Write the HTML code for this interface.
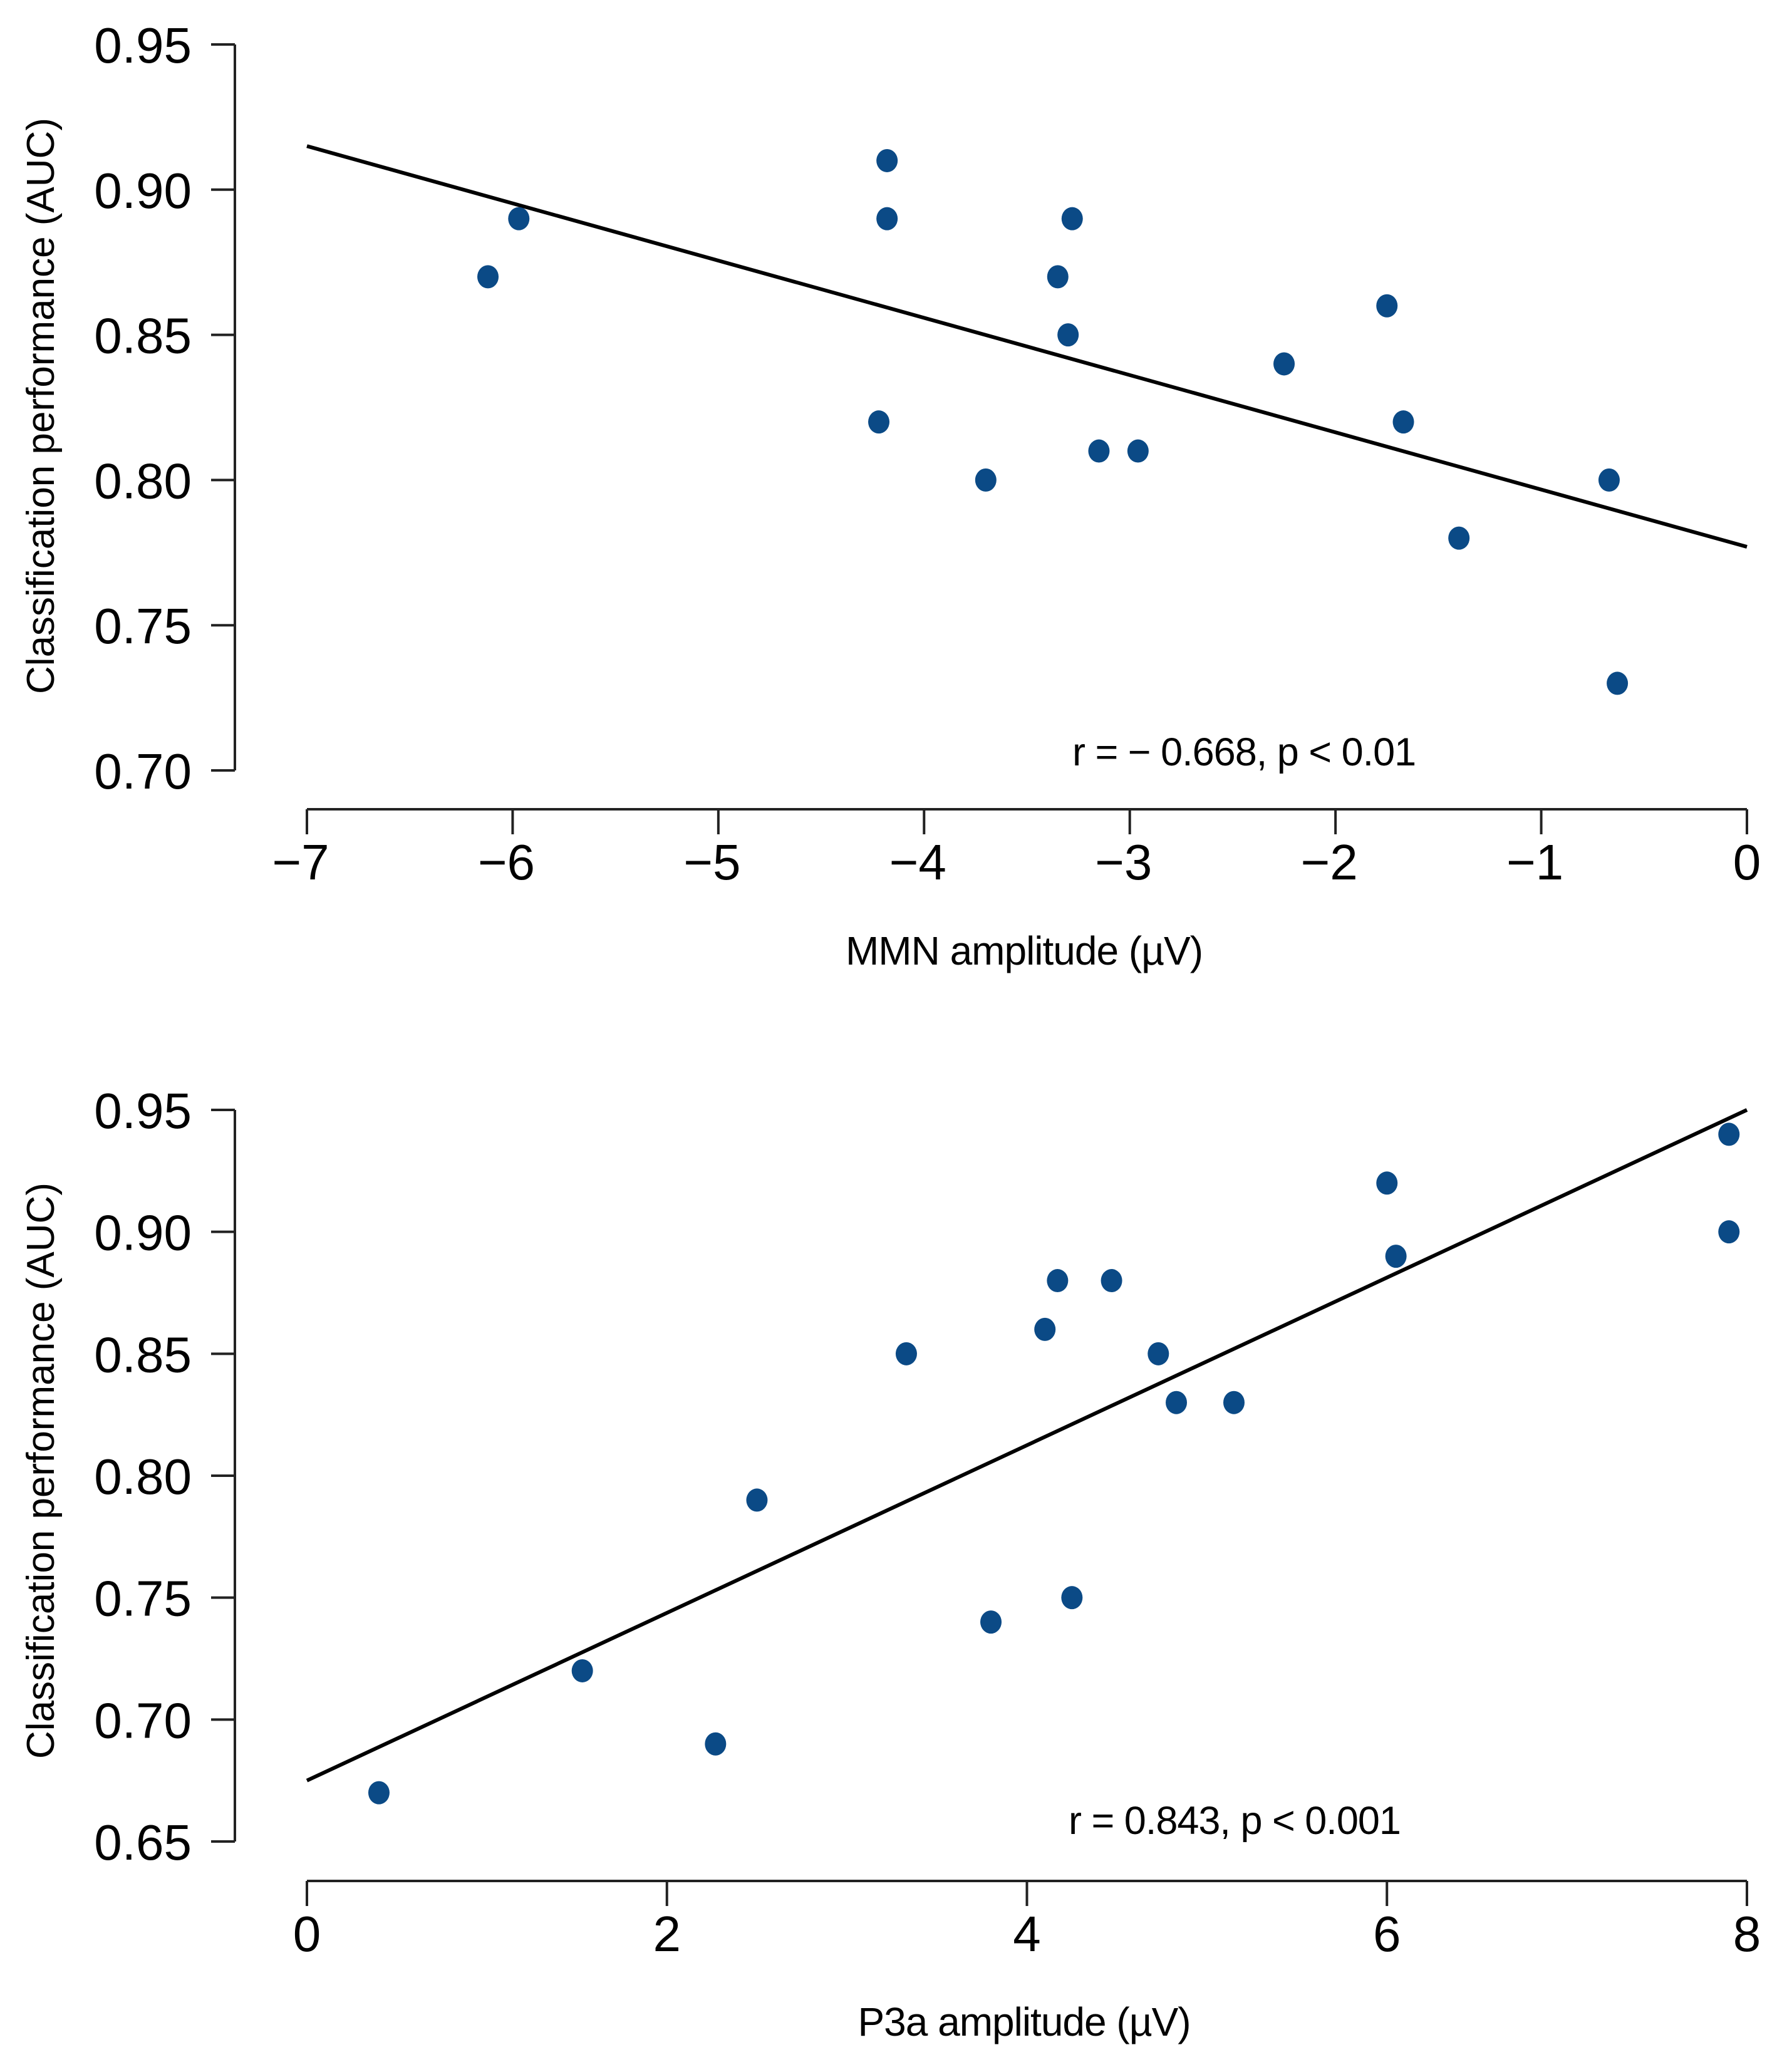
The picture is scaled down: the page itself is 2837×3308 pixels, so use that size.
<!DOCTYPE html>
<html><head><meta charset="utf-8"><style>
html,body{margin:0;padding:0;background:#fff}
svg{display:block}
text{font-family:"Liberation Sans",Arial,sans-serif;fill:#000}
</style></head><body>
<svg id="fig" width="2837" height="3308" viewBox="0 0 2837 3308" xmlns="http://www.w3.org/2000/svg">
<g id="p1"></g>
<g id="p2"></g>
</svg>
<script>
const mmnX = [-6.12,-5.97,-4.22,-4.18,-4.18,-3.7,-3.35,-3.3,-3.28,-3.15,-2.96,-2.25,-1.75,-1.67,-1.4,-0.67,-0.63];
const mmnY = [0.87,0.89,0.82,0.91,0.89,0.80,0.87,0.85,0.89,0.81,0.81,0.84,0.86,0.82,0.78,0.80,0.73];
const mmnFit = [[-7,0.915],[0,0.777]];
const mmnXTicks = [-7,-6,-5,-4,-3,-2,-1,0];
const mmnYTicks = [0.70,0.75,0.80,0.85,0.90,0.95];
const p3aX = [0.4,1.53,2.27,2.5,3.33,3.8,4.1,4.17,4.25,4.47,4.73,4.83,5.15,6.0,6.05,7.9,7.9];
const p3aY = [0.67,0.72,0.69,0.79,0.85,0.74,0.86,0.88,0.75,0.88,0.85,0.83,0.83,0.92,0.89,0.94,0.90];
const p3aFit = [[0,0.675],[8,0.950]];
const p3aXTicks = [0,2,4,6,8];
const p3aYTicks = [0.65,0.70,0.75,0.80,0.85,0.90,0.95];

const NS="http://www.w3.org/2000/svg";
function mk(parent,tag,attrs,txt){const e=document.createElementNS(NS,tag);for(const k in attrs)e.setAttribute(k,attrs[k]);if(txt!==undefined)e.textContent=txt;parent.appendChild(e);return e;}
function fmtX(v){return v<0?"\u2212"+Math.abs(v):String(v);}

function panel(g,cfg){
  const sx=v=>cfg.x0px+(v-cfg.xmin)/(cfg.xmax-cfg.xmin)*(cfg.x1px-cfg.x0px);
  const sy=v=>cfg.y0px+(v-cfg.ymin)/(cfg.ymax-cfg.ymin)*(cfg.y1px-cfg.y0px);
  const ax=375, ay=cfg.axisY;
  const ya=mk(g,'line',{x1:ax,x2:ax,y1:sy(cfg.ymin),y2:sy(cfg.ymax),stroke:'#222','stroke-width':4});
  
  
  cfg.yTicks.forEach(t=>{
    const l=mk(g,'line',{x1:ax-38,x2:ax,y1:sy(t),y2:sy(t),stroke:'#222','stroke-width':4});
    
    
    const tx=mk(g,'text',{x:306,y:sy(t)+29,'text-anchor':'end','font-size':80},t.toFixed(2));
    
    
  });
  const xa=mk(g,'line',{x1:sx(cfg.xmin),x2:sx(cfg.xmax),y1:ay,y2:ay,stroke:'#222','stroke-width':4});
  
  
  cfg.xTicks.forEach(t=>{
    const l=mk(g,'line',{x1:sx(t),x2:sx(t),y1:ay,y2:ay+40,stroke:'#222','stroke-width':4});
    
    
    const tx=mk(g,'text',{x:sx(t)-(t<0?10:0),y:ay+112,'text-anchor':'middle','font-size':80},fmtX(t));
    
    
  });
  const f=mk(g,'line',{x1:sx(cfg.fit[0][0]),y1:sy(cfg.fit[0][1]),x2:sx(cfg.fit[1][0]),y2:sy(cfg.fit[1][1]),stroke:'#000','stroke-width':6});
  
  
  cfg.xs.forEach((v,i)=>{
    const c=mk(g,'ellipse',{cx:sx(v),cy:sy(cfg.ys[i]),rx:17,ry:18.5,fill:'#0b4a86'});
    
    
  });
  const xt=mk(g,'text',{x:cfg.xtX,y:cfg.xtY,'text-anchor':'middle','font-size':64,'letter-spacing':'-1'},cfg.xTitle);
  
  
  const yt=mk(g,'text',{x:0,y:0,'text-anchor':'middle','font-size':62,transform:`translate(86,${cfg.ytY}) rotate(-90)`},'Classification performance (AUC)');
  
  
  const an=mk(g,'text',{x:cfg.anX,y:cfg.anY,'font-size':63,'letter-spacing':'-1'},cfg.ann);
  
  
}

panel(document.getElementById('p1'),{xs:mmnX,ys:mmnY,fit:mmnFit,xTicks:mmnXTicks,yTicks:mmnYTicks,
  xmin:-7,xmax:0,x0px:490,x1px:2789,ymin:0.70,ymax:0.95,y0px:1230,y1px:71,axisY:1292,
  xTitle:'MMN amplitude (\u00b5V)',xtX:1635,xtY:1540,ytY:648,ann:'r = \u2212 0.668, p < 0.01',anX:1712,anY:1222});
panel(document.getElementById('p2'),{xs:p3aX,ys:p3aY,fit:p3aFit,xTicks:p3aXTicks,yTicks:p3aYTicks,
  xmin:0,xmax:8,x0px:490,x1px:2789,ymin:0.65,ymax:0.95,y0px:2940,y1px:1772,axisY:3003,
  xTitle:'P3a amplitude (\u00b5V)',xtX:1635,xtY:3250,ytY:2348,ann:'r = 0.843, p < 0.001',anX:1706,anY:2928});
</script>
</body></html>
